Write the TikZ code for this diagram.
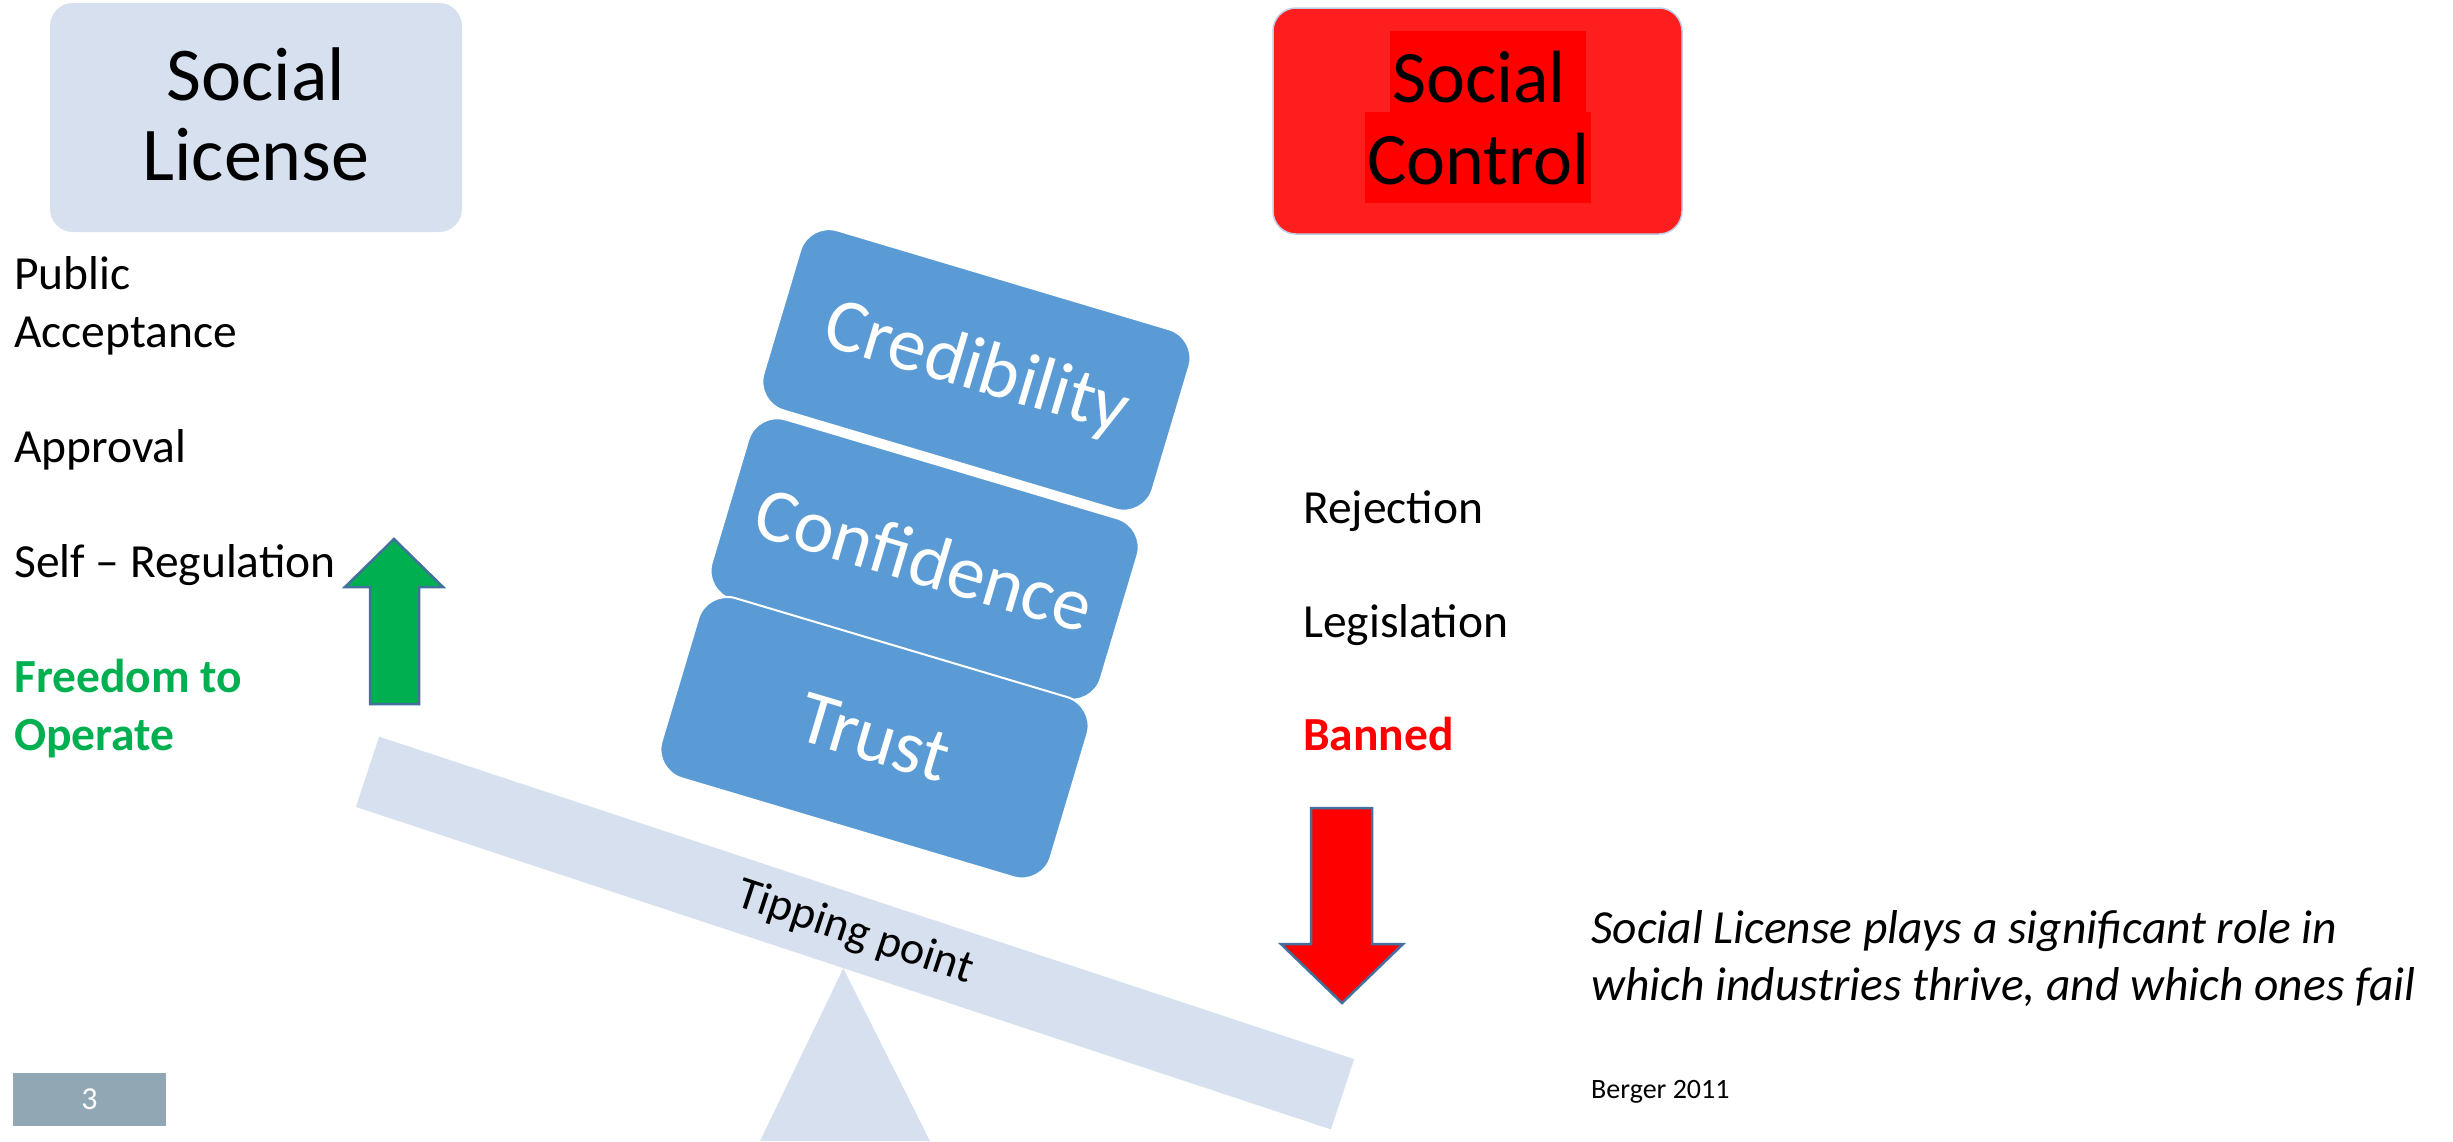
\documentclass[tikz,border=0pt]{standalone}
\usepackage{fontspec}
\setmainfont{Carlito}
\usetikzlibrary{shapes,positioning,calc}
\definecolor{panelblue}{RGB}{214,224,238}
\definecolor{stackblue}{RGB}{91,155,213}
\definecolor{ctrlred}{RGB}{255,30,30}
\definecolor{hlred}{RGB}{255,0,0}
\definecolor{okgreen}{RGB}{0,176,80}
\definecolor{edgeblue}{RGB}{65,113,156}
\definecolor{pagegray}{RGB}{145,167,180}
\definecolor{ctrledge}{RGB}{190,205,230}

\begin{document}
\begin{tikzpicture}[x=1pt,y=-1pt,
  txt/.style={anchor=base west,inner sep=0pt,align=left,font=\fontsize{47.5}{58}\selectfont},
  head/.style={anchor=base,inner sep=0pt,align=center,font=\fontsize{76}{80}\selectfont},
  hl/.style={fill=hlred,anchor=base west,inner xsep=2pt,inner ysep=0pt,font=\fontsize{74}{80}\selectfont},
  brick/.style={fill=stackblue,draw=white,line width=2pt,rounded corners=30pt,minimum width=406pt,
    minimum height=188pt,rotate=-16.6,inner sep=0pt,text=white,font=\fontsize{76}{80}\selectfont},
  blockarrow/.style={draw=edgeblue,line width=2.5pt,line join=miter}]
   \useasboundingbox (0,0) rectangle (2453,1141);
   \node[fill=panelblue,rounded corners=23pt,minimum width=412pt,minimum height=229pt] (licbox) at (256,117.5) {};
   \node[head] (lictext) at (256,180) {Social\\License};
   \node[fill=ctrlred,draw=ctrledge,line width=1.5pt,rounded corners=23pt,minimum width=409pt,minimum height=226pt] (ctrlbox) at (1477.5,121) {};
   \node[hl,text height=71pt,text depth=10pt] (ctrlsocial) at (1390,102) {Social\hspace*{18pt}};
   \node[hl,text height=72pt,text depth=19pt] (ctrlcontrol) at (1365,184) {Control};

   \node[txt] (pubacc) at (14,347) {Public\\Acceptance};
   \node[txt] (approval) at (14,462) {Approval};
   \node[txt] (selfreg) at (14,577) {Self – Regulation};
   \node[txt,text=okgreen,font=\fontsize{47.5}{58}\selectfont\bfseries] (freedom) at (14,750) {Freedom to\\Operate};
   \node[txt] (reject) at (1303,523) {Rejection};
   \node[txt] (legis) at (1303,637) {Legislation};
   \node[txt,text=hlred,font=\fontsize{47.5}{58}\selectfont\bfseries] (banned) at (1303,750) {Banned};

   \node[fill=panelblue,minimum width=1027pt,minimum height=74pt,rotate=-18.3,inner sep=0pt,
     font=\fontsize{46}{57}\selectfont] (beam) at (855,933) {Tipping point};
   \fill[panelblue] (beam.south) -- (930,1141) -- (760,1141) -- cycle;

   \node[brick] (credibility) at (976.4,369.9) {Credibility};
   \node[brick] (confidence) at (924.6,559) {Confidence};
   \node[brick] (trust) at (874.5,737.7) {Trust};

   \filldraw[blockarrow,fill=okgreen] (394,539) -- (443,587) -- (419,587) -- (419,704) -- (370,704) -- (370,587) -- (345,587) -- cycle;
   \filldraw[blockarrow,fill=hlred] (1311,808) -- (1372,808) -- (1372,944) -- (1403,944) -- (1342,1003) -- (1281,944) -- (1311,944) -- cycle;

   \node[txt,font=\fontsize{47.5}{57}\selectfont\itshape] (remark) at (1591,1000) {Social License plays a significant role in\\which industries thrive, and which ones fail};
   \node[txt,font=\fontsize{28}{34}\selectfont] (source) at (1591,1098) {Berger 2011};
   \node[fill=pagegray,minimum width=153pt,minimum height=53pt,inner sep=0pt,text=white,
     font=\fontsize{32}{38}\selectfont] (pagenum) at (89.5,1099.5) {3};
\end{tikzpicture}
\end{document}
